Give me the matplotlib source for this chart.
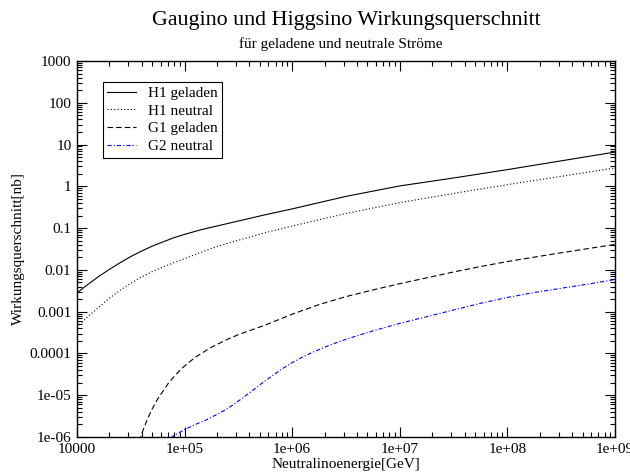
import numpy as np
import matplotlib.pyplot as plt

# log10 of neutralino energy [GeV] and log10 of cross section [nb]
h1_geladen_E = [4.0, 4.1, 4.2, 4.3, 4.4, 4.5, 4.6, 4.7, 4.8, 4.9, 5.0, 5.15, 5.3, 5.5, 5.75, 6.0, 6.5, 7.0, 7.5, 8.0, 8.5, 9.0]
h1_geladen_s = [-2.55, -2.35, -2.16, -1.99, -1.83, -1.68, -1.55, -1.43, -1.33, -1.23, -1.15, -1.04, -0.95, -0.83, -0.68, -0.54, -0.24, 0.01, 0.20, 0.40, 0.61, 0.82]

h1_neutral_E = [4.0, 4.1, 4.2, 4.3, 4.4, 4.5, 4.6, 4.7, 4.8, 4.9, 5.0, 5.15, 5.3, 5.5, 5.75, 6.0, 6.5, 7.0, 7.5, 8.0, 8.5, 9.0]
h1_neutral_s = [-3.37, -3.12, -2.90, -2.68, -2.49, -2.32, -2.17, -2.04, -1.93, -1.83, -1.73, -1.58, -1.44, -1.29, -1.11, -0.95, -0.65, -0.39, -0.17, 0.04, 0.24, 0.44]

g1_geladen_E = [4.55, 4.6, 4.65, 4.7, 4.75, 4.8, 4.85, 4.9, 4.95, 5.0, 5.1, 5.25, 5.4, 5.5, 5.75, 6.0, 6.25, 6.5, 6.75, 7.0, 7.25, 7.5, 7.75, 8.0, 8.5, 9.0]
g1_geladen_s = [-6.30, -5.93, -5.60, -5.32, -5.09, -4.90, -4.71, -4.56, -4.42, -4.30, -4.09, -3.85, -3.66, -3.55, -3.32, -3.06, -2.83, -2.64, -2.48, -2.33, -2.19, -2.05, -1.92, -1.80, -1.59, -1.39]

g2_neutral_E = [4.8, 4.9, 5.0, 5.1, 5.2, 5.3, 5.4, 5.5, 5.6, 5.7, 5.8, 5.9, 6.0, 6.1, 6.2, 6.35, 6.5, 6.75, 7.0, 7.25, 7.5, 7.75, 8.0, 8.25, 8.5, 8.75, 9.0]
g2_neutral_s = [-6.15, -5.97, -5.82, -5.70, -5.59, -5.46, -5.32, -5.14, -4.95, -4.75, -4.56, -4.38, -4.22, -4.08, -3.96, -3.80, -3.66, -3.46, -3.28, -3.12, -2.96, -2.80, -2.66, -2.54, -2.44, -2.34, -2.23]

xticks = [1e4, 1e5, 1e6, 1e7, 1e8, 1e9]
xtick_labels = ['10000', '1e+05', '1e+06', '1e+07', '1e+08', '1e+09']
yticks = [1e-6, 1e-5, 1e-4, 1e-3, 1e-2, 1e-1, 1, 10, 100, 1000]
ytick_labels = ['1e-06', '1e-05', '0.0001', '0.001', '0.01', '0.1', '1', '10', '100', '1000']

plt.rcParams['font.family'] = ['Liberation Serif', 'DejaVu Serif']
plt.rcParams['lines.scale_dashes'] = False

fig = plt.figure(figsize=(6.3, 4.75), dpi=100)
ax = fig.add_axes([77/630, 38/475, 538/630, 376/475])

lw = 0.8
ax.plot(10**np.array(h1_geladen_E), 10**np.array(h1_geladen_s), color='black', lw=lw, label='H1 geladen')
ax.plot(10**np.array(h1_neutral_E), 10**np.array(h1_neutral_s), color='black', lw=lw,
        linestyle=(0, (0.8, 1.6)), label='H1 neutral')
ax.plot(10**np.array(g1_geladen_E), 10**np.array(g1_geladen_s), color='black', lw=lw,
        linestyle=(0, (4, 2.2)), label='G1 geladen')
ax.plot(10**np.array(g2_neutral_E), 10**np.array(g2_neutral_s), color='blue', lw=lw,
        linestyle=(0, (3, 1.5, 0.8, 1.5)), label='G2 neutral')

ax.set_xscale('log')
ax.set_yscale('log')
ax.set_xlim(1e4, 1e9)
ax.set_ylim(1e-6, 1000)
ax.set_xticks(xticks)
ax.set_xticklabels(xtick_labels)
ax.set_yticks(yticks)
ax.set_yticklabels(ytick_labels)
ax.xaxis.set_minor_locator(plt.matplotlib.ticker.LogLocator(base=10, subs=np.arange(2, 10), numticks=20))
ax.yaxis.set_minor_locator(plt.matplotlib.ticker.LogLocator(base=10, subs=np.arange(2, 10), numticks=20))
ax.xaxis.set_minor_formatter(plt.NullFormatter())
ax.yaxis.set_minor_formatter(plt.NullFormatter())

ax.tick_params(which='both', direction='in', top=True, right=True, width=0.8, labelsize=11, pad=4)
ax.tick_params(which='major', length=7)
ax.tick_params(which='minor', length=3.5)
for s in ax.spines.values():
    s.set_linewidth(1.0)

ax.set_xlabel('Neutralinoenergie[GeV]', fontsize=11, labelpad=2)
ax.set_ylabel('Wirkungsquerschnitt[nb]', fontsize=11, labelpad=3)

fig.text(346/630, 1 - 21/475, 'Gaugino und Higgsino Wirkungsquerschnitt', fontsize=15.8, ha='center', va='center')
fig.text(341/630, 1 - 44/475, 'für geladene und neutrale Ströme', fontsize=11, ha='center', va='center')

leg = ax.legend(loc='upper left', bbox_to_anchor=(0.048, 0.945), borderaxespad=0, fontsize=11,
                fancybox=False, framealpha=1, edgecolor='black', handlelength=1.9,
                handletextpad=0.75, borderpad=0.3, labelspacing=0.26)
leg.get_frame().set_linewidth(0.8)

plt.savefig('out.png', dpi=100)
